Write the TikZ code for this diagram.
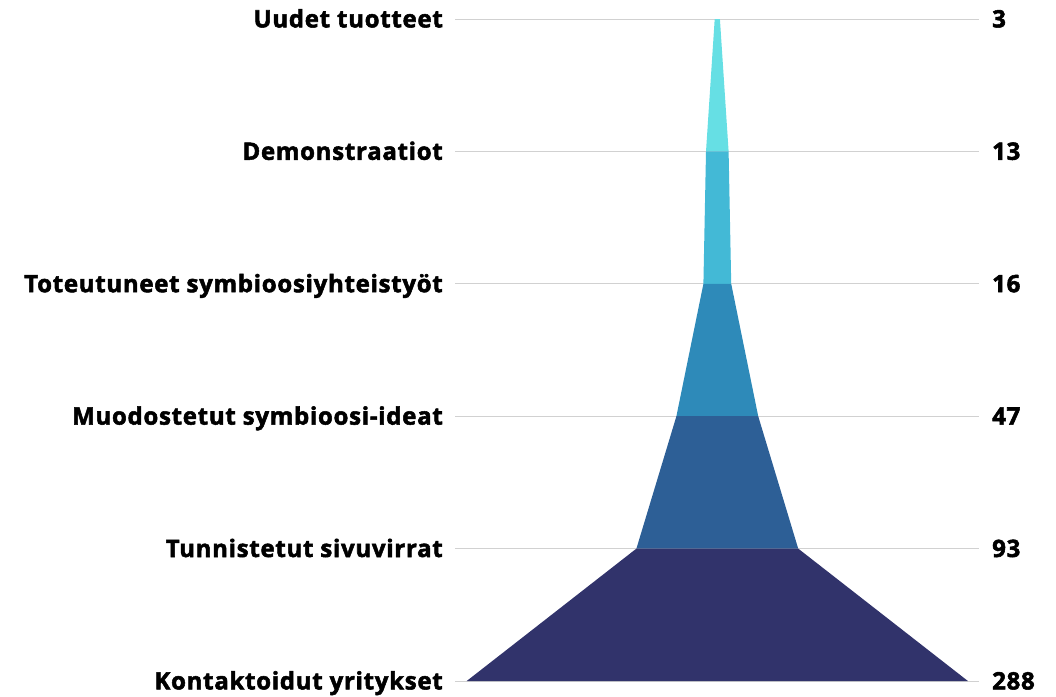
\documentclass[tikz,border=0pt]{standalone}
\usepackage{fontspec}
\setmainfont{Open Sans}[BoldFeatures={FakeBold=2.2,LetterSpace=3}]
\definecolor{fa}{HTML}{66DFE4}
\definecolor{fb}{HTML}{43B9D6}
\definecolor{fc}{HTML}{2E8AB9}
\definecolor{fd}{HTML}{2D5F96}
\definecolor{fe}{HTML}{31336B}
\begin{document}
\begin{tikzpicture}[x=1pt,y=-1pt,
    lab/.style={anchor=east,inner xsep=12pt,inner ysep=0pt,text height=16.8pt,text depth=0pt,font=\fontsize{24}{28}\selectfont\bfseries},
    num/.style={anchor=west,inner xsep=13pt,inner ysep=0pt,text height=16.8pt,text depth=0pt,font=\fontsize{24}{28}\selectfont\bfseries},
    hline/.style={draw=black!18,line width=1pt}]
		\useasboundingbox (0,0) rectangle (1056,696);
		\node (t1) [lab] at (455,19) {Uudet tuotteet};
		\node (t2) [lab] at (455,151.4) {Demonstraatiot};
		\node (t3) [lab] at (455,283.8) {Toteutuneet symbioosiyhteistyöt};
		\node (t4) [lab] at (455,416.2) {Muodostetut symbioosi-ideat};
		\node (t5) [lab] at (455,548.6) {Tunnistetut sivuvirrat};
		\node (t6) [lab] at (455,681) {Kontaktoidut yritykset};
		\node (v1) [num] at (979,19) {3};
		\node (v2) [num] at (979,151.4) {13};
		\node (v3) [num] at (979,283.8) {16};
		\node (v4) [num] at (979,416.2) {47};
		\node (v5) [num] at (979,548.6) {93};
		\node (v6) [num] at (979,681) {288};
		
		\draw[hline] (t1) -- (v1);
		\draw[hline] (t2) -- (v2);
		\draw[hline] (t3) -- (v3);
		\draw[hline] (t4) -- (v4);
		\draw[hline] (t5) -- (v5);
		\draw[hline] (t6) -- (v6);
		
		% funnel
		\fill[fa] (714.7,19) -- (719.9,19) -- (728.6,151.4) -- (706.0,151.4) -- cycle;
		\fill[fb] (706.0,151.4) -- (728.6,151.4) -- (731.2,283.8) -- (703.4,283.8) -- cycle;
		\fill[fc] (703.4,283.8) -- (731.2,283.8) -- (758.2,416.2) -- (676.4,416.2) -- cycle;
		\fill[fd] (676.4,416.2) -- (758.2,416.2) -- (798.2,548.6) -- (636.4,548.6) -- cycle;
		\fill[fe] (636.4,548.6) -- (798.2,548.6) -- (967.9,681) -- (466.7,681) -- cycle;
		\end{tikzpicture}
\end{document}
